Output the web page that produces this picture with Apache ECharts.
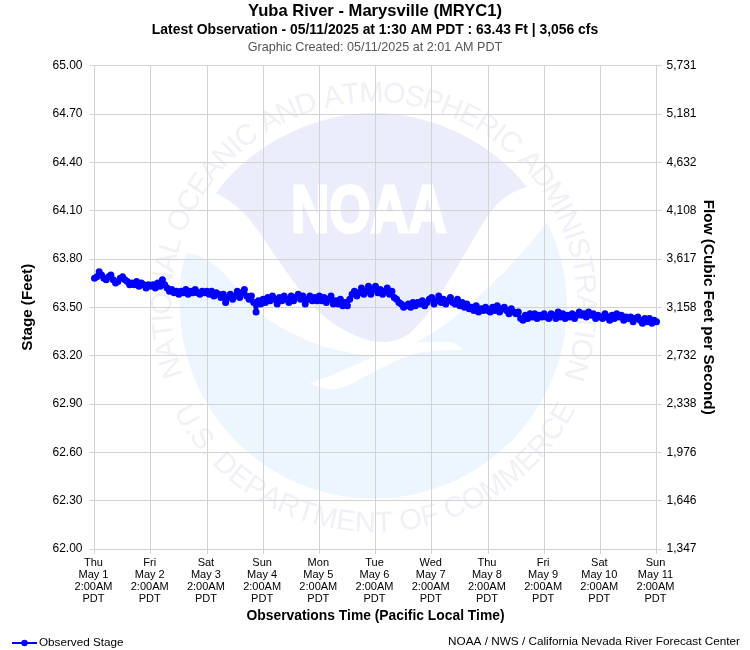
<!DOCTYPE html>
<html>
<head>
<meta charset="utf-8">
<script src="https://cdn.jsdelivr.net/npm/echarts@6/dist/echarts.min.js"></script>
<style>
	html, body { margin: 0; padding: 0; background: #fff; }
	#chart { width: 750px; height: 650px; }
</style>
</head>
<body>
<div id="chart"></div>
<script>
var FONT = '"Liberation Sans", Arial, sans-serif';

// stage readings in feet, one row per day, one reading an hour from 2:00AM
var stageMay1 = [63.68, 63.69, 63.72, 63.70, 63.68, 63.67, 63.69, 63.70, 63.67, 63.65, 63.66, 63.68, 63.69, 63.67, 63.66, 63.64, 63.65, 63.64, 63.66, 63.63, 63.65, 63.64, 63.62, 63.64];
var stageMay2 = [63.63, 63.64, 63.62, 63.65, 63.63, 63.67, 63.64, 63.62, 63.60, 63.61, 63.59, 63.60, 63.58, 63.60, 63.59, 63.61, 63.58, 63.60, 63.59, 63.61, 63.59, 63.58, 63.60, 63.59];
var stageMay3 = [63.60, 63.58, 63.60, 63.57, 63.59, 63.58, 63.56, 63.58, 63.53, 63.56, 63.58, 63.55, 63.57, 63.60, 63.56, 63.59, 63.61, 63.57, 63.55, 63.57, 63.53, 63.47, 63.54, 63.52];
var stageMay4 = [63.55, 63.53, 63.56, 63.54, 63.57, 63.55, 63.52, 63.56, 63.54, 63.57, 63.55, 63.53, 63.57, 63.54, 63.56, 63.58, 63.55, 63.57, 63.52, 63.55, 63.57, 63.54, 63.56, 63.54];
var stageMay5 = [63.57, 63.54, 63.56, 63.53, 63.55, 63.57, 63.52, 63.54, 63.52, 63.55, 63.51, 63.53, 63.51, 63.55, 63.58, 63.60, 63.57, 63.59, 63.62, 63.58, 63.60, 63.63, 63.58, 63.61];
var stageMay6 = [63.63, 63.59, 63.61, 63.58, 63.60, 63.62, 63.58, 63.60, 63.56, 63.55, 63.53, 63.52, 63.50, 63.51, 63.52, 63.50, 63.53, 63.51, 63.53, 63.52, 63.54, 63.51, 63.53, 63.55];
var stageMay7 = [63.56, 63.52, 63.54, 63.57, 63.53, 63.55, 63.52, 63.54, 63.56, 63.53, 63.52, 63.55, 63.51, 63.53, 63.50, 63.52, 63.49, 63.50, 63.48, 63.51, 63.47, 63.49, 63.48, 63.50];
var stageMay8 = [63.48, 63.47, 63.50, 63.48, 63.51, 63.47, 63.49, 63.50, 63.48, 63.46, 63.49, 63.47, 63.46, 63.47, 63.43, 63.42, 63.45, 63.43, 63.46, 63.44, 63.46, 63.43, 63.45, 63.44];
var stageMay9 = [63.46, 63.44, 63.43, 63.46, 63.45, 63.43, 63.47, 63.44, 63.46, 63.43, 63.45, 63.44, 63.46, 63.43, 63.45, 63.47, 63.45, 63.46, 63.44, 63.47, 63.45, 63.46, 63.43, 63.45];
var stageMay10 = [63.44, 63.43, 63.46, 63.44, 63.42, 63.45, 63.43, 63.46, 63.44, 63.45, 63.42, 63.44, 63.43, 63.44, 63.41, 63.43, 63.44, 63.42, 63.40, 63.43, 63.41, 63.43, 63.40, 63.42];
var stageMay11 = [63.41];

var dayLabels = ['Thu\nMay 1', 'Fri\nMay 2', 'Sat\nMay 3', 'Sun\nMay 4', 'Mon\nMay 5', 'Tue\nMay 6', 'Wed\nMay 7', 'Thu\nMay 8', 'Fri\nMay 9', 'Sat\nMay 10', 'Sun\nMay 11'];
var stageTicks = ['62.00', '62.30', '62.60', '62.90', '63.20', '63.50', '63.80', '64.10', '64.40', '64.70', '65.00'];
var flowTicks = ['1,347', '1,646', '1,976', '2,338', '2,732', '3,158', '3,617', '4,108', '4,632', '5,181', '5,731'];

var stage = [].concat(stageMay1, stageMay2, stageMay3, stageMay4, stageMay5, stageMay6, stageMay7, stageMay8, stageMay9, stageMay10, stageMay11);
var points = stage.map(function (v, i) {
	return [i, v];
});

var GRID_COLOR = '#d3d3d3';
var TOP_TEXT = 'NATIONAL OCEANIC AND ATMOSPHERIC ADMINISTRATION';
var BOTTOM_TEXT = 'U.S. DEPARTMENT OF COMMERCE';
var SEAL_X = 374, SEAL_Y = 305;

// the graphic component has no plain path type, so the two logo shapes get registered
echarts.graphic.registerShape('sealLower', echarts.graphic.extendPath(
	'M187 253 C178 275 180 290 180 305 A193.5 193.5 0 0 0 567 305 C567 275 558 245 547 222 ' +
	'C520 258 495 282 467 307 C452 320 435 332 417 342 L450 342 C456 343 460 346 462 350 ' +
	'C445 350 430 351 417 353 C400 358 390 364 377 370 C362 378 350 386 337 389 ' +
	'C327 390 317 387 310 383 C325 378 337 373 350 367 C360 363 368 359 377 355 ' +
	'C367 355 358 355 350 353 C332 349 315 345 300 337 C285 330 272 323 260 313 ' +
	'C248 302 237 288 227 277 C220 268 212 263 207 260 C200 256 194 254 187 253 Z', {}));
echarts.graphic.registerShape('sealUpper', echarts.graphic.extendPath(
	'M216 193 C255 140 320 113 374 113 C430 113 490 140 527 187 ' +
	'C505 193 495 205 483 223 C468 248 457 268 443 290 C433 308 422 322 410 333 ' +
	'C400 340 392 342 383 342 C372 342 360 338 350 333 C338 327 327 320 317 310 ' +
	'C304 297 294 282 283 267 C272 252 262 235 250 220 C240 208 228 199 216 193 Z', {}));

// letters of the seal text, one element each, placed along a circle.
// bottom = true runs left to right along the underside of the circle
function arcLetters(text, radius, fromDeg, toDeg, size, bottom) {
	var ctx = document.createElement('canvas').getContext('2d');
	ctx.font = size + 'px ' + FONT;
	var total = ctx.measureText(text).width;
	var run = 0;
	var out = [];
	for (var i = 0; i < text.length; i++) {
		var w = ctx.measureText(text[i]).width;
		var deg = fromDeg + (toDeg - fromDeg) * (run + w / 2) / total;
		run += w;
		if (text[i] === ' ') continue;
		var a = deg * Math.PI / 180;
		out.push({
			type: 'text',
			z: -5,
			x: SEAL_X + radius * Math.sin(a),
			y: bottom ? SEAL_Y + radius * Math.cos(a) : SEAL_Y - radius * Math.cos(a),
			rotation: bottom ? a : -a,
			silent: true,
			style: {
				text: text[i],
				font: size + 'px ' + FONT,
				fill: '#f0f0f7',
				align: 'center',
				verticalAlign: 'middle'
			}
		});
	}
	return out;
}

var seal = [
	{ type: 'sealLower', z: -6, silent: true, style: { fill: '#edf5fe' } },
	{ type: 'sealUpper', z: -6, silent: true, style: { fill: '#ebedfa' } },
	{
		type: 'text',
		z: -5,
		silent: true,
		x: 369,
		y: 214,
		scaleX: 0.8,
		style: {
			text: 'NOAA',
			font: 'bold 66px ' + FONT,
			fill: '#ffffff',
			stroke: '#ffffff',
			lineWidth: 3,
			align: 'center',
			verticalAlign: 'middle'
		}
	}
];

seal = seal
	.concat(arcLetters(TOP_TEXT, 211, -110, 109, 29, false))
	.concat(arcLetters(BOTTOM_TEXT, 219, -62, 62, 29, true));

var chart = echarts.init(document.getElementById('chart'), null, { renderer: 'canvas' });

chart.setOption({
	animation: false,
	backgroundColor: '#ffffff',
	textStyle: { fontFamily: FONT },
	title: [
		{ text: 'Yuba River - Marysville (MRYC1)', left: 375, top: 3, textAlign: 'center', padding: 0, textStyle: { fontSize: 16.6, fontWeight: 'bold', color: '#000', fontFamily: FONT } },
		{ text: 'Latest Observation - 05/11/2025 at 1:30 AM PDT : 63.43 Ft | 3,056 cfs', left: 375, top: 23, textAlign: 'center', padding: 0, textStyle: { fontSize: 13.9, fontWeight: 'bold', color: '#000', fontFamily: FONT } },
		{ text: 'Graphic Created: 05/11/2025 at 2:01 AM PDT', left: 375, top: 41, textAlign: 'center', padding: 0, textStyle: { fontSize: 12.6, fontWeight: 'normal', color: '#555', fontFamily: FONT } }
	],
	legend: {
		left: 11,
		top: 637,
		padding: 0,
		itemWidth: 25,
		itemHeight: 8,
		itemGap: 0,
		textStyle: { fontSize: 11.7, color: '#000', fontFamily: FONT, padding: [0, 0, 0, -3] },
		data: ['Observed Stage']
	},
	grid: { left: 94.5, right: 93.5, top: 65.5, bottom: 101, containLabel: false },
	xAxis: {
		type: 'value',
		min: 0,
		max: 240,
		interval: 24,
		name: 'Observations Time (Pacific Local Time)',
		nameLocation: 'middle',
		nameMoveOverlap: false,
		nameGap: 60,
		nameTextStyle: { fontSize: 13.85, fontWeight: 'bold', color: '#000' },
		axisLine: { show: true, lineStyle: { color: GRID_COLOR } },
		axisTick: { show: true, length: 5, lineStyle: { color: GRID_COLOR } },
		axisLabel: {
			color: '#000',
			fontSize: 11,
			lineHeight: 12,
			margin: 8,
			padding: [0, 2, 0, 0],
			hideOverlap: false,
			showMinLabel: true,
			showMaxLabel: true,
			formatter: function (value) {
				return dayLabels[value / 24] + '\n2:00AM\nPDT';
			}
		},
		splitLine: { show: true, lineStyle: { color: GRID_COLOR, width: 1 } }
	},
	yAxis: [{
		type: 'value',
		min: 62,
		max: 65,
		interval: 0.3,
		position: 'left',
		name: 'Stage (Feet)',
		nameLocation: 'middle',
		nameMoveOverlap: false,
		nameRotate: 90,
		nameGap: 59,
		nameTextStyle: { fontSize: 15.2, fontWeight: 'bold', color: '#000' },
		axisLine: { show: true, lineStyle: { color: GRID_COLOR } },
		axisTick: { show: true, length: 5, lineStyle: { color: GRID_COLOR } },
		axisLabel: {
			color: '#000',
			fontSize: 12,
			margin: 12,
			formatter: function (value) {
				return stageTicks[Math.round((value - 62) / 0.3)];
			}
		},
		splitLine: { show: true, lineStyle: { color: GRID_COLOR, width: 1 } }
	}, {
		type: 'value',
		min: 62,
		max: 65,
		interval: 0.3,
		position: 'right',
		name: 'Flow (Cubic Feet per Second)',
		nameLocation: 'middle',
		nameMoveOverlap: false,
		nameRotate: -90,
		nameGap: 44,
		nameTextStyle: { fontSize: 15.3, fontWeight: 'bold', color: '#000' },
		axisLine: { show: true, lineStyle: { color: GRID_COLOR } },
		axisTick: { show: true, length: 5, lineStyle: { color: GRID_COLOR } },
		axisLabel: {
			color: '#000',
			fontSize: 12,
			margin: 10,
			formatter: function (value) {
				return flowTicks[Math.round((value - 62) / 0.3)];
			}
		},
		splitLine: { show: false }
	}],
	graphic: seal.concat([{
		type: 'text',
		right: 10,
		top: 636,
		silent: true,
		style: {
			text: 'NOAA / NWS / California Nevada River Forecast Center',
			font: '11.75px ' + FONT,
			fill: '#000'
		}
	}]),
	series: [{
		name: 'Observed Stage',
		type: 'line',
		yAxisIndex: 0,
		data: points,
		showSymbol: true,
		showAllSymbol: true,
		symbol: 'circle',
		symbolSize: 7,
		lineStyle: { color: '#0000ff', width: 3 },
		itemStyle: { color: '#0000ff' }
	}]
});
</script>
</body>
</html>
